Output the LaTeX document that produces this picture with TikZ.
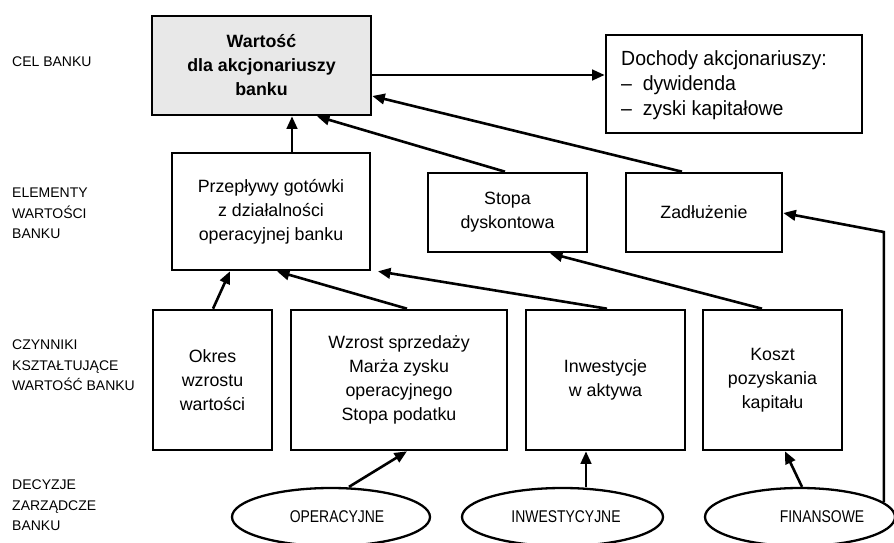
\documentclass[tikz,border=0pt]{standalone}
\usepackage{fontspec}
\setmainfont{Liberation Sans}
\newfontfamily\ovalfont[FakeStretch=0.82]{Liberation Sans}
\newfontfamily\incomefont[FakeStretch=0.95]{Liberation Sans}
\usetikzlibrary{arrows.meta,shapes.geometric}
\begin{document}
\begin{tikzpicture}[x=1pt,y=-1pt,
  box/.style={draw, line width=2.6pt, rectangle, inner sep=0pt, align=center,
    font=\fontsize{17.8}{24}\selectfont},
  oval/.style={draw, line width=2.3pt, ellipse, inner sep=0pt},
  arr/.style={line width=2.6pt, -{Triangle[length=12.5pt,width=10.5pt]}},
  lvl/.style={anchor=north west, inner sep=0pt, align=left,
    font=\fontsize{14}{20.5}\selectfont},
  otext/.style={anchor=base, inner sep=0pt, font=\ovalfont\fontsize{17}{18}\selectfont}]
\useasboundingbox (0,0) rectangle (894,543);
\fill[white] (0,0) rectangle (894,543);

% level captions
\node[lvl] (l1) at (12,57) {CEL BANKU};
\node[lvl] (l2) at (12,188) {ELEMENTY\\WARTOŚCI\\BANKU};
\node[lvl] (l3) at (12,340) {CZYNNIKI\\KSZTAŁTUJĄCE\\WARTOŚĆ BANKU};
\node[lvl] (l4) at (12,480) {DECYZJE\\ZARZĄDCZE\\BANKU};

% goal
\node[box, fill=black!9, minimum width=219pt, minimum height=99pt,
  font=\bfseries\fontsize{17.8}{24}\selectfont] (val) at (261.5,65.5)
  {Wartość\\dla akcjonariuszy\\banku};
\node[box, minimum width=256pt, minimum height=98pt] (doch) at (734,84) {};
\node[anchor=north west, align=left, inner sep=0pt,
  font=\incomefont\fontsize{20.5}{25}\selectfont] (dochtxt) at (621,50)
  {Dochody akcjonariuszy:\\– \ dywidenda\\– \ zyski kapitałowe};

% value elements
\node[box, minimum width=198pt, minimum height=117pt] (prz) at (271,211.5)
  {Przepływy gotówki\\z działalności\\operacyjnej banku};
\node[box, minimum width=159pt, minimum height=79pt] (stopa) at (507.5,212.5)
  {Stopa\\dyskontowa};
\node[box, minimum width=156pt, minimum height=79pt] (zad) at (704,212.5)
  {Zadłużenie};

% value drivers
\node[box, minimum width=119pt, minimum height=140pt] (okres) at (212.5,380)
  {Okres\\wzrostu\\wartości};
\node[box, minimum width=216pt, minimum height=140pt] (wzrost) at (399,380)
  {Wzrost sprzedaży\\Marża zysku\\operacyjnego\\Stopa podatku};
\node[box, minimum width=159pt, minimum height=140pt] (inw) at (605.5,380)
  {Inwestycje\\w aktywa};
\node[box, minimum width=139pt, minimum height=140pt] (koszt) at (772.5,380)
  {Koszt\\pozyskania\\kapitału};

% management decisions
\node[oval, minimum width=198pt, minimum height=58pt] (op) at (331,517) {};
\node[oval, minimum width=201pt, minimum height=58pt] (inwe) at (562.5,517) {};
\node[oval, minimum width=190pt, minimum height=58pt] (fin) at (800,517) {};
\node[otext] (optxt) at (337,522) {OPERACYJNE};
\node[otext] (inwetxt) at (566,522) {INWESTYCYJNE};
\node[otext] (fintxt) at (822,522) {FINANSOWE};

% connectors
\draw[arr] (val.east |- 0,75) -- (doch.west |- 0,75);
\draw[arr] (292,0 |- prz.north) -- (292,0 |- val.south);
\draw[arr] (505,0 |- stopa.north) -- (317,0 |- val.south);
\draw[arr] (682,0 |- zad.north) -- (val.east |- 0,96);
\draw[arr] (fin.10) -- (fin.10 |- 0,232) -- (zad.east |- 0,213);
\draw[arr] (213,0 |- okres.north) -- (230,0 |- prz.south);
\draw[arr] (407,0 |- wzrost.north) -- (277,0 |- prz.south);
\draw[arr] (607,0 |- inw.north) -- (378,0 |- prz.south);
\draw[arr] (762,0 |- koszt.north) -- (550,0 |- stopa.south);
\draw[arr] (349,0 |- op.north) -- (407,0 |- wzrost.south);
\draw[arr] (586,0 |- inwe.north) -- (586,0 |- inw.south);
\draw[arr] (802,0 |- fin.north) -- (785,0 |- koszt.south);
\end{tikzpicture}
\end{document}
